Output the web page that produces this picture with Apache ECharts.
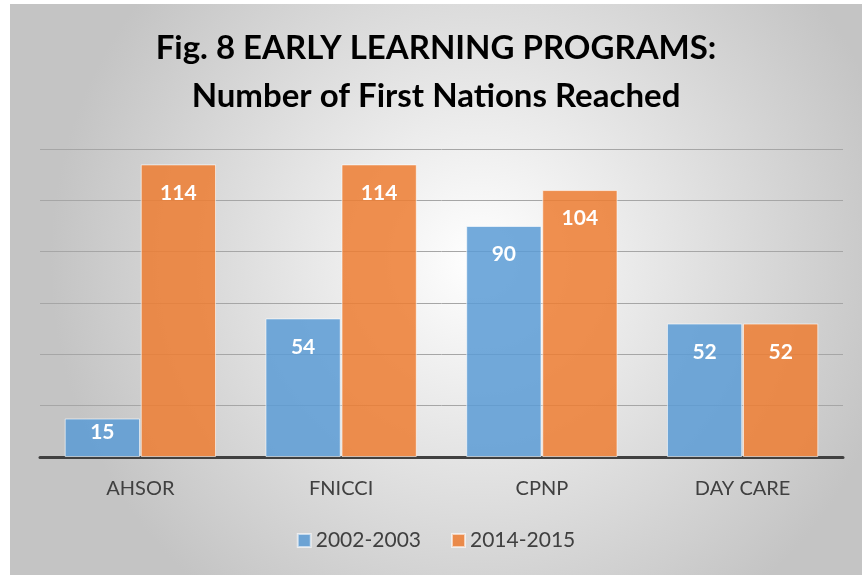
<!DOCTYPE html>
<html>
<head>
<meta charset="utf-8">
<script src="https://cdn.jsdelivr.net/npm/echarts@6/dist/echarts.min.js"></script>
<style>
html,body{margin:0;padding:0;background:#fff;}
#echartsDiv{position:absolute;left:10px;top:4px;width:852px;height:571px;}
</style>
</head>
<body>
<div id="echartsDiv"></div>
<script>
var myChart=echarts.init(document.getElementById('echartsDiv'));

//数据
var categories=['AHSOR','FNICCI','CPNP','DAY CARE'];
var seriesNames=['2002-2003','2014-2015'];
var values2002=[15,54,90,52];
var values2014=[114,114,104,52];

//短柱的标签贴近顶部
function barData(arr){
	return arr.map(function(v){
		return v<30 ? {value:v,label:{distance:3}} : v;
	});
}

var labelStyle={
	show:true,
	position:'insideTop',
	distance:18,
	color:'#fff',
	fontFamily:'Lato',
	fontWeight:'bold',
	fontSize:21
};

var option={
	backgroundColor:new echarts.graphic.RadialGradient(0.55,0.45,0.75,[{
		offset:0,color:'#ffffff'
	},{
		offset:1,color:'#c4c4c4'
	}]),
	title:{
		text:'Fig. 8 EARLY LEARNING PROGRAMS:\nNumber of First Nations Reached',
		left:'center',
		top:15,
		textStyle:{
			fontFamily:'Lato',
			fontWeight:'bold',
			fontSize:33,
			lineHeight:48,
			color:'#000'
		}
	},
	legend:{
		data:seriesNames,
		bottom:19,
		left:'center',
		itemWidth:13,
		itemHeight:13,
		itemGap:30,
		icon:'rect',
		textStyle:{fontFamily:'Lato',fontSize:21,color:'#404040'}
	},
	grid:{left:30,right:19,top:145,bottom:118},
	xAxis:{
		type:'category',
		data:categories,
		axisLine:{lineStyle:{color:'#404040',width:3}},
		axisTick:{show:false},
		axisLabel:{fontFamily:'Lato',fontSize:20,color:'#404040',margin:22}
	},
	yAxis:{
		type:'value',
		min:0,
		max:120,
		interval:20,
		axisLabel:{show:false},
		axisLine:{show:false},
		axisTick:{show:false},
		splitLine:{lineStyle:{color:'#a6a6a6',width:1}}
	},
	series:[{
		name:seriesNames[0],
		type:'bar',
		data:barData(values2002),
		barWidth:'37.5%',
		barGap:'1%',
		itemStyle:{color:'rgba(91,155,213,0.85)',borderColor:'rgba(255,255,255,0.6)',borderWidth:1},
		label:labelStyle
	},{
		name:seriesNames[1],
		type:'bar',
		data:barData(values2014),
		barWidth:'37.5%',
		itemStyle:{color:'rgba(237,125,49,0.85)',borderColor:'rgba(255,255,255,0.6)',borderWidth:1},
		label:labelStyle
	}]
};
myChart.setOption(option);
</script>
</body>
</html>
